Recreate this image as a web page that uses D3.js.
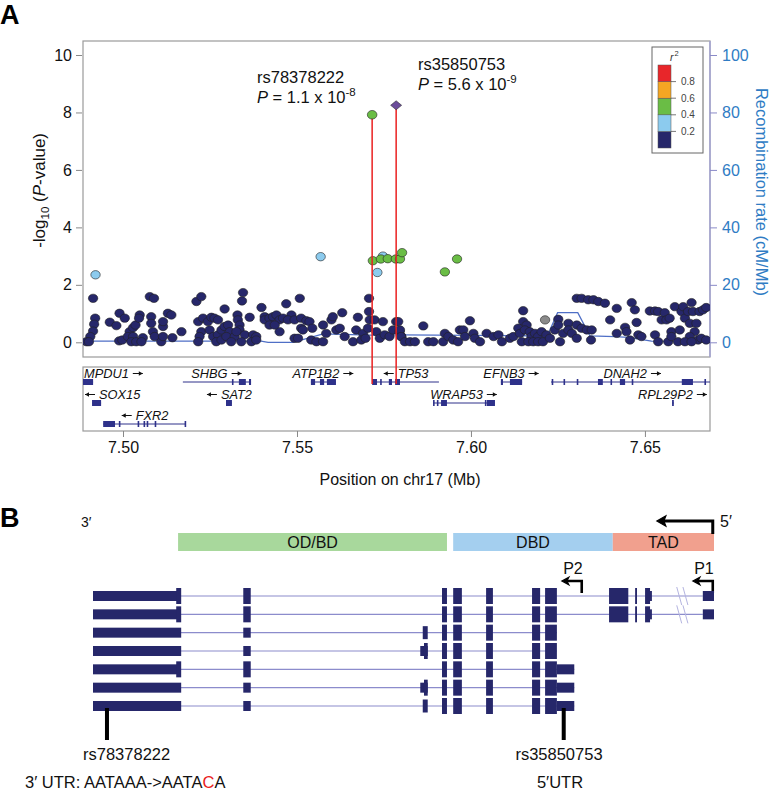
<!DOCTYPE html>
<html>
<head>
<meta charset="utf-8">
<script src="https://cdn.jsdelivr.net/npm/d3@7"></script>
<style>
  body { margin: 0; background: #fff; }
  svg text { font-family: "Liberation Sans", Arial, sans-serif; }
</style>
</head>
<body>
<svg id="fig" width="773" height="792"></svg>
<script>
// ---------- panel A data: [position (Mb), -log10 P] ----------
const navyPts = [
  [7.4914,1.53],[7.4920,0.84],[7.4917,0.63],[7.4914,0.39],[7.4906,0.20],[7.4895,0.02],[7.4902,0.02],
  [7.4962,0.70],[7.4981,0.58],[7.4990,1.01],[7.5005,0.84],[7.4989,0.05],[7.4998,0.08],
  [7.5019,0.37],[7.5029,0.51],[7.5036,0.60],[7.5048,0.95],[7.5046,0.84],[7.5014,0.20],[7.5029,0.20],
  [7.5024,0.02],[7.5038,0.02],[7.5057,0.16],[7.5053,0.02],
  [7.5077,1.59],[7.5089,1.53],[7.5081,0.89],[7.5081,0.66],[7.5086,0.37],[7.5091,0.20],[7.5110,0.02],
  [7.5115,0.20],[7.5115,0.55],[7.5115,0.72],[7.5129,1.01],[7.5139,0.95],[7.5142,0.16],[7.5168,0.37],
  [7.5211,1.42],[7.5225,1.59],[7.5216,0.72],[7.5230,0.84],[7.5225,0.37],[7.5220,0.20],[7.5216,0.02],
  [7.5244,0.72],[7.5254,0.87],[7.5263,0.84],[7.5273,0.78],[7.5249,0.43],[7.5259,0.20],[7.5273,0.26],
  [7.5283,0.43],[7.5268,0.02],[7.5283,0.08],[7.5292,1.16],[7.5292,0.55],[7.5302,0.60],[7.5307,0.37],
  [7.5297,0.20],[7.5321,0.20],[7.5311,0.02],
  [7.5345,1.73],[7.5342,1.44],[7.5329,0.95],[7.5330,0.78],[7.5335,0.60],[7.5335,0.43],[7.5326,0.37],
  [7.5350,0.26],[7.5340,0.02],[7.5364,0.87],[7.5374,0.26],[7.5383,0.20],[7.5369,0.02],[7.5383,0.08],
  [7.5398,1.21],[7.5407,0.89],[7.5407,0.78],[7.5421,0.84],[7.5431,0.89],[7.5441,0.95],[7.5450,0.78],
  [7.5460,0.84],[7.5469,1.34],[7.5484,0.95],[7.5474,0.78],[7.5493,0.78],[7.5508,1.53],[7.5512,0.84],
  [7.5512,0.49],[7.5517,0.43],[7.5527,0.75],[7.5536,0.72],[7.5493,0.14],[7.5503,0.14],[7.5450,0.37],
  [7.5421,0.60],[7.5436,0.60],[7.5544,0.49],[7.5541,0.08],[7.5556,0.02],[7.5575,0.02],[7.5584,0.31],
  [7.5575,0.60],[7.5599,0.78],[7.5603,0.89],[7.5613,0.43],[7.5630,1.03],[7.5623,0.49],[7.5637,0.20],
  [7.5661,0.02],[7.5675,0.87],[7.5670,0.43],[7.5690,0.31],[7.5685,0.08],[7.5697,0.14],[7.5707,1.53],
  [7.5707,1.07],[7.5709,0.78],[7.5704,0.49],[7.5723,0.78],[7.5728,0.37],[7.5738,0.14],[7.5747,0.72],
  [7.5752,0.26],[7.5766,0.20],[7.5776,0.43],[7.5785,0.72],[7.5795,0.37],[7.5800,0.20],
  [7.5791,0.72],[7.5796,0.43],[7.5799,0.20],[7.5810,0.02],[7.5825,0.02],[7.5839,0.02],[7.5863,0.57],
  [7.5877,0.02],[7.5892,0.02],[7.5925,0.31],[7.5920,0.02],[7.5935,0.20],[7.5949,0.08],[7.5968,0.43],
  [7.5978,0.43],[7.5963,0.02],[7.5983,0.20],[7.5997,0.75],[7.6007,0.31],[7.6011,0.14],[7.6026,0.02],
  [7.6045,0.31],[7.6065,0.20],[7.6079,0.26],[7.6089,0.02],[7.6112,0.14],[7.6122,0.20],[7.6150,1.10],
  [7.6150,0.72],[7.6160,0.60],[7.6136,0.49],[7.6141,0.31],[7.6155,0.43],[7.6169,0.37],[7.6174,0.20],
  [7.6184,0.31],[7.6193,0.20],[7.6203,0.37],[7.6217,0.26],[7.6146,0.02],[7.6165,0.02],[7.6179,0.02],
  [7.6193,0.02],[7.6207,0.02],[7.6227,0.14],[7.6241,0.43],[7.6251,0.80],[7.6251,0.60],[7.6265,0.31],
  [7.6256,0.02],[7.6280,0.66],[7.6280,0.43],[7.6290,0.31],[7.6304,0.60],[7.6304,0.14],[7.6318,0.49],
  [7.6333,0.43],[7.6347,0.43],[7.6345,0.08],[7.6304,1.53],[7.6318,1.53],[7.6337,1.48],[7.6352,1.48],
  [7.6366,1.42],[7.6385,1.36],[7.6419,1.18],[7.6400,0.78],[7.6419,0.31],[7.6443,0.52],[7.6447,0.37],
  [7.6457,0.08],[7.6462,1.38],[7.6471,1.13],[7.6476,0.69],[7.6481,0.26],[7.6490,0.20],[7.6514,1.09],
  [7.6529,1.09],[7.6538,1.07],[7.6548,0.78],[7.6529,0.26],[7.6538,0.02],[7.6557,1.03],[7.6562,0.78],
  [7.6571,0.84],[7.6576,0.37],[7.6586,1.24],[7.6600,0.43],[7.6605,1.07],[7.6610,1.24],[7.6615,0.84],
  [7.6624,1.07],[7.6634,1.38],[7.6638,1.07],[7.6629,0.66],[7.6648,0.66],[7.6643,0.37],[7.6657,1.07],
  [7.6667,1.13],[7.6676,1.21],[7.6629,0.20],[7.6653,0.08],[7.6662,0.14],[7.6676,0.08],[7.6567,0.02],
  [7.6595,0.02],[7.6615,0.02],[7.6634,0.02],[7.6576,0.20]
];
const lightBluePts = [[7.4921,2.35],[7.5568,2.98],[7.5731,2.43],[7.5747,3.00]];
const greenPts = [[7.5718,2.84],[7.5741,2.90],[7.5761,2.91],[7.5784,2.90],[7.5796,2.90],
                  [7.5802,3.12],[7.5925,2.45],[7.5960,2.90]];
const grayPts = [[7.6213,0.78]];

const leadIds = ['rs78378222', 'rs35850753'];
const leadPos = [7.5716, 7.5785];
const leadLogP = [7.92, 8.25];
const leadP = ['1.1', '5.6'];
const leadExp = ['-8', '-9'];

// recombination rate [Mb, cM/Mb]
const recomb = [[7.4885,0.4],[7.5397,0.4],[7.5417,0],[7.5489,0],[7.5575,2.9],[7.5710,2.5],
  [7.5796,2.6],[7.6218,2.2],[7.6227,4.3],[7.6249,10.3],[7.6307,10.3],[7.6342,2.2],[7.6414,2.0],
  [7.6452,1.7],[7.6519,0.4],[7.6687,0.3]];

const logTicks = [0, 2, 4, 6, 8, 10];
const recTicks = [0, 20, 40, 60, 80, 100];
const posTicks = [7.50, 7.55, 7.60, 7.65];
const r2Breaks = [0.2, 0.4, 0.6, 0.8];
const r2Colors = ['#26276a', '#8ccbee', '#6abd45', '#f5a623', '#e8262a'];

// genes: name, strand, row, start, end, exons
const genes = [
  {name: 'MPDU1', strand: 1, row: 0, start: 7.4885, end: 7.4914, exons: [[7.4885, 7.4914]]},
  {name: 'SHBG', strand: 1, row: 0, start: 7.5172, end: 7.5368,
    exons: [[7.5313, 7.5316], [7.5333, 7.5353], [7.5362, 7.5368]]},
  {name: 'ATP1B2', strand: 1, row: 0, start: 7.5540, end: 7.5612,
    exons: [[7.5540, 7.5552], [7.5566, 7.5578], [7.5586, 7.5612]]},
  {name: 'TP53', strand: -1, row: 0, start: 7.5716, end: 7.5908,
    exons: [[7.5716, 7.5730], [7.5739, 7.5742], [7.5764, 7.5773], [7.5782, 7.5796]]},
  {name: 'EFNB3', strand: 1, row: 0, start: 7.6086, end: 7.6147,
    exons: [[7.6086, 7.6092], [7.6112, 7.6147]]},
  {name: 'DNAH2', strand: 1, row: 0, start: 7.6230, end: 7.6700,
    exons: [[7.6232, 7.6234], [7.6266, 7.6268], [7.6304, 7.6306], [7.6365, 7.6379], [7.6401, 7.6403],
            [7.6428, 7.6443], [7.6462, 7.6464], [7.6606, 7.6638], [7.6671, 7.6673]]},
  {name: 'SOX15', strand: -1, row: 1, start: 7.4911, end: 7.4937, exons: [[7.4911, 7.4937]]},
  {name: 'SAT2', strand: -1, row: 1, start: 7.5296, end: 7.5313, exons: [[7.5296, 7.5313]]},
  {name: 'WRAP53', strand: 1, row: 1, start: 7.5891, end: 7.6069,
    exons: [[7.5891, 7.5893], [7.5902, 7.5905], [7.5914, 7.5931], [7.6040, 7.6043], [7.6046, 7.6069]]},
  {name: 'RPL29P2', strand: 1, row: 1, start: 7.6578, end: 7.6583, exons: [[7.6578, 7.6583]]},
  {name: 'FXR2', strand: -1, row: 2, start: 7.4943, end: 7.5181,
    exons: [[7.4943, 7.4977], [7.4988, 7.4990], [7.5042, 7.5044], [7.5059, 7.5061], [7.5068, 7.5070],
            [7.5091, 7.5093], [7.5177, 7.5179]]}
];

// ---------- panel B data (schematic units 0-100 along TP53, 3' on the left) ----------
const domainNames = ['OD/BD', 'DBD', 'TAD'];
const domainStart = [13.7, 58.0, 83.7];
const domainEnd = [57.0, 83.7, 100];
const domainColors = ['#a8d89c', '#a4cfef', '#f1a08e'];

const coreCds = [[56.2, 57.0], [58.0, 59.4], [63.3, 64.4], [70.7, 72.0], [72.8, 74.7]];
const isoEnd = [98.2, 98.2, 74.7, 74.7, 77.5, 77.5, 77.5];
const isoUtr = [
  [[0, 14.0], [89.7, 90.0], [98.2, 100]],
  [[0, 14.0], [89.7, 90.0], [98.2, 100]],
  [[0, 14.2], [24.2, 25.4]],
  [[0, 14.2], [24.2, 25.4], [52.7, 53.9]],
  [[0, 14.0], [74.7, 77.5]],
  [[0, 14.2], [24.2, 25.4], [52.7, 53.9], [74.7, 77.5]],
  [[0, 14.2], [24.2, 25.4], [74.7, 77.5]]
];
const isoCds = [
  [[13.4, 14.2], [24.2, 25.4], ...coreCds, [83.1, 86.2], [87.3, 87.6], [88.9, 89.7]],
  [[13.4, 14.2], [24.2, 25.4], ...coreCds, [83.1, 86.2], [87.3, 87.6], [88.9, 89.7]],
  coreCds,
  [[53.3, 53.9], ...coreCds],
  [[13.4, 14.2], [24.2, 25.4], ...coreCds],
  [[53.3, 53.9], ...coreCds],
  coreCds
];
const isoMid = [[], [], [[53.1, 53.9]], [], [], [], [[53.1, 53.9]]];
const breakAt = 94.0;
const promoters = [{name: 'P2', at: 78.7, to: 75.5}, {name: 'P1', at: 99.8, to: 96.6}];
const snpB = [{id: 'rs78378222', at: 2.25}, {id: 'rs35850753', at: 75.8}];

// ================= drawing =================
const FONT = '"Liberation Sans", Arial, sans-serif';
const svg = d3.select('#fig');
const navy = '#26276a';

// ---------- panel A ----------
const pL = 83, pR = 710, pT = 41, pB = 357;
const x = d3.scaleLinear().domain([7.4885, 7.6687]).range([pL, pR]);
const y = d3.scaleLinear().domain([0, 10]).range([342.3, 55]);
const yRec = d3.scaleLinear().domain([0, 100]).range([342.3, 55]);

svg.append('text').attr('x', 0).attr('y', 24).attr('font-size', 27).attr('font-weight', 'bold').text('A');

const defs = svg.append('defs');
defs.append('clipPath').attr('id', 'clipA')
  .append('rect').attr('x', pL).attr('y', pT).attr('width', pR - pL).attr('height', pB - pT);
defs.append('clipPath').attr('id', 'clipG')
  .append('rect').attr('x', pL).attr('y', 367).attr('width', pR - pL).attr('height', 64);

svg.append('rect').attr('x', pL).attr('y', pT).attr('width', pR - pL).attr('height', pB - pT)
  .attr('fill', 'none').attr('stroke', '#9a9a9a').attr('stroke-width', 1.2);
svg.append('line').attr('x1', pR).attr('x2', pR).attr('y1', pT).attr('y2', pB)
  .attr('stroke', '#a4a4d4').attr('stroke-width', 1.5);

// left axis
const gL = svg.append('g').attr('transform', `translate(${pL - 1},0)`)
  .call(d3.axisLeft(y).tickValues(logTicks).tickSize(6).tickPadding(4));
gL.attr('font-family', FONT).attr('font-size', 16);
gL.select('.domain').remove();
gL.selectAll('line').attr('stroke', '#888');
gL.selectAll('text').attr('fill', '#111');

// right axis
const gR = svg.append('g').attr('transform', `translate(${pR},0)`)
  .call(d3.axisRight(yRec).tickValues(recTicks).tickSize(7).tickPadding(5));
gR.attr('font-family', FONT).attr('font-size', 16);
gR.select('.domain').remove();
gR.selectAll('line').attr('stroke', '#8a8ac8');
gR.selectAll('text').attr('fill', '#2f7cc4');

// axis titles
const yt = svg.append('text').attr('transform', 'translate(45,133) rotate(-90)')
  .attr('text-anchor', 'end').attr('font-size', 17).attr('fill', '#111');
yt.append('tspan').text('-log');
yt.append('tspan').attr('font-size', 11.5).attr('dy', 4).text('10');
yt.append('tspan').attr('dy', -4).text(' (');
yt.append('tspan').attr('font-style', 'italic').text('P');
yt.append('tspan').text('-value)');

svg.append('text').attr('transform', 'translate(756,192) rotate(90)')
  .attr('text-anchor', 'middle').attr('font-size', 16.5).attr('fill', '#2f7cc4')
  .text('Recombination rate (cM/Mb)');

// recombination line
const plot = svg.append('g').attr('clip-path', 'url(#clipA)');
plot.append('path').datum(recomb)
  .attr('fill', 'none').attr('stroke', '#4f6fc6').attr('stroke-width', 1.3)
  .attr('d', d3.line().x(d => x(d[0])).y(d => yRec(d[1])));

function dots(data, fill) {
  plot.append('g').selectAll('ellipse').data(data).join('ellipse')
    .attr('cx', d => x(d[0])).attr('cy', d => y(d[1])).attr('rx', 4.7).attr('ry', 4.2)
    .attr('fill', fill).attr('stroke', '#222').attr('stroke-width', 0.6);
}
dots(navyPts, navy);
dots(grayPts, '#8a8a8a');

// gene track
svg.append('rect').attr('x', pL).attr('y', 367).attr('width', pR - pL).attr('height', 64)
  .attr('fill', 'none').attr('stroke', '#9a9a9a').attr('stroke-width', 1.2);
const rowY = [382, 403, 424];
const gt = svg.append('g');
const gtClip = gt.append('g').attr('clip-path', 'url(#clipG)');
genes.forEach(g => {
  const gy = rowY[g.row];
  gtClip.append('line').attr('x1', x(g.start)).attr('x2', x(g.end)).attr('y1', gy).attr('y2', gy)
    .attr('stroke', '#2e318a').attr('stroke-width', 1);
  gtClip.selectAll(null).data(g.exons).join('rect')
    .attr('x', e => x(e[0])).attr('y', gy - 3)
    .attr('width', e => Math.max(1.6, x(e[1]) - x(e[0]))).attr('height', 6)
    .attr('fill', '#2e318a');

  const t = gt.append('text').attr('font-style', 'italic').attr('font-size', 12.8).attr('fill', '#111')
    .attr('y', gy - 4).text(g.name);
  const tw = t.node().getComputedTextLength();
  const total = tw + 15;
  const cx = (x(g.start) + x(g.end)) / 2;
  const lx = Math.max(pL + 1, Math.min(pR - 2 - total, cx - total / 2));
  const ay = gy - 8.5;
  let a0, a1;
  if (g.strand > 0) { t.attr('x', lx); a0 = lx + tw + 4; a1 = a0 + 10; }
  else { t.attr('x', lx + 15); a0 = lx + 11; a1 = lx + 1; }
  gt.append('line').attr('x1', a0).attr('x2', a1).attr('y1', ay).attr('y2', ay)
    .attr('stroke', '#111').attr('stroke-width', 1);
  const d = g.strand > 0 ? 1 : -1;
  gt.append('path')
    .attr('d', `M${a1},${ay} L${a1 - d * 4},${ay - 2.2} L${a1 - d * 4},${ay + 2.2} Z`)
    .attr('fill', '#111');
});

// x axis
const gX = svg.append('g').attr('transform', 'translate(0,431)')
  .call(d3.axisBottom(x).tickValues(posTicks).tickFormat(d3.format('.2f')).tickSize(6).tickPadding(5));
gX.attr('font-family', FONT).attr('font-size', 16);
gX.select('.domain').remove();
gX.selectAll('line').attr('stroke', '#888');
gX.selectAll('text').attr('fill', '#111');
svg.append('text').attr('x', 400).attr('y', 485).attr('text-anchor', 'middle')
  .attr('font-size', 16).attr('fill', '#111').text('Position on chr17 (Mb)');

// lead SNP lines
leadPos.forEach((p, i) => {
  svg.append('line').attr('x1', x(p)).attr('x2', x(p)).attr('y1', y(leadLogP[i])).attr('y2', 384)
    .attr('stroke', '#ea2020').attr('stroke-width', 1.5);
});
dots(lightBluePts, r2Colors[1]);
dots(greenPts, r2Colors[2]);

// lead SNPs
svg.append('ellipse').attr('cx', x(leadPos[0])).attr('cy', y(leadLogP[0])).attr('rx', 4.8).attr('ry', 4.3)
  .attr('fill', r2Colors[2]).attr('stroke', '#222').attr('stroke-width', 0.6);
{
  const cx = x(leadPos[1]), cy = y(leadLogP[1]);
  svg.append('path').attr('d', `M${cx - 5.5},${cy} L${cx},${cy - 4.5} L${cx + 5.5},${cy} L${cx},${cy + 4.5} Z`)
    .attr('fill', '#6b4c9a').attr('stroke', '#333').attr('stroke-width', 0.6);
}

// annotations
const annX = [257, 418], annY = [83, 70];
leadIds.forEach((id, i) => {
  svg.append('text').attr('x', annX[i]).attr('y', annY[i]).attr('font-size', 16.5).attr('fill', '#111').text(id);
  const t = svg.append('text').attr('x', annX[i]).attr('y', annY[i] + 20).attr('font-size', 16.5).attr('fill', '#111');
  t.append('tspan').attr('font-style', 'italic').text('P');
  t.append('tspan').text(` = ${leadP[i]} x 10`);
  t.append('tspan').attr('font-size', 11.5).attr('dy', -7).text(leadExp[i]);
});

// legend
svg.append('rect').attr('x', 652).attr('y', 47).attr('width', 51).attr('height', 106)
  .attr('fill', '#fff').attr('stroke', '#666').attr('stroke-width', 1);
const yL = d3.scaleLinear().domain([0, 1]).range([148, 65]);
const bins = d3.range(5).map(i => [i * 0.2, (i + 1) * 0.2]);
svg.append('g').selectAll('rect').data(bins).join('rect')
  .attr('x', 658).attr('y', d => yL(d[1])).attr('width', 13).attr('height', d => yL(d[0]) - yL(d[1]))
  .attr('fill', (d, i) => r2Colors[i]).attr('stroke', '#555').attr('stroke-width', 0.5);
r2Breaks.forEach(b => {
  svg.append('line').attr('x1', 671).attr('x2', 676).attr('y1', yL(b)).attr('y2', yL(b))
    .attr('stroke', '#555').attr('stroke-width', 0.8);
  svg.append('text').attr('x', 681).attr('y', yL(b) + 3.5).attr('font-size', 10).attr('fill', '#444').text(b.toFixed(1));
});
const r2t = svg.append('text').attr('x', 670).attr('y', 61).attr('font-size', 10.5).attr('fill', '#333');
r2t.append('tspan').attr('font-style', 'italic').text('r');
r2t.append('tspan').attr('font-size', 7.5).attr('dy', -5).attr('dx', 1).text('2');

// ---------- panel B ----------
const xB = d3.scaleLinear().domain([0, 100]).range([93, 714]);
const rowB = d3.scalePoint().domain(d3.range(7)).range([596, 706]);

svg.append('text').attr('x', 0).attr('y', 527).attr('font-size', 27).attr('font-weight', 'bold').text('B');
svg.append('text').attr('x', 81).attr('y', 527).attr('font-size', 14).attr('fill', '#111').text('3\u2032');
svg.append('text').attr('x', 720).attr('y', 527).attr('font-size', 16).attr('fill', '#111').text('5\u2032');

// domain bars
domainNames.forEach((n, i) => {
  svg.append('rect').attr('x', xB(domainStart[i])).attr('y', 533)
    .attr('width', xB(domainEnd[i]) - xB(domainStart[i])).attr('height', 18).attr('fill', domainColors[i]);
  svg.append('text').attr('x', (xB(domainStart[i]) + xB(domainEnd[i])) / 2).attr('y', 548)
    .attr('text-anchor', 'middle').attr('font-size', 16).attr('fill', '#111').text(n);
});

// bent arrows (transcription direction and promoters)
function bentArrow(xv, yTop, yBot, xTip, w, head) {
  svg.append('path').attr('d', `M${xv},${yBot} L${xv},${yTop} L${xTip + head},${yTop}`)
    .attr('fill', 'none').attr('stroke', '#000').attr('stroke-width', w);
  svg.append('path')
    .attr('d', `M${xTip},${yTop} L${xTip + head + 2},${yTop - head * 0.75} L${xTip + head},${yTop} L${xTip + head + 2},${yTop + head * 0.75} Z`)
    .attr('fill', '#000').attr('stroke', '#000').attr('stroke-width', 1.2);
}
bentArrow(xB(99.8), 521, 534, xB(90.8), 3, 7);
promoters.forEach(p => {
  bentArrow(xB(p.at), 581, 593, xB(p.to), 2.6, 5);
  svg.append('text').attr('x', xB(p.at) + 1).attr('y', 574).attr('text-anchor', 'end')
    .attr('font-size', 16).attr('fill', '#111').text(p.name);
});

// isoforms
const iso = svg.append('g');
isoEnd.forEach((end, r) => {
  const ry = rowB(r);
  iso.append('line').attr('x1', xB(0)).attr('x2', xB(end)).attr('y1', ry).attr('y2', ry)
    .attr('stroke', '#8c8ccc').attr('stroke-width', 1.1);
  const blocks = [
    ...isoUtr[r].map(e => ({e, h: 10})),
    ...isoMid[r].map(e => ({e, h: 13})),
    ...isoCds[r].map(e => ({e, h: 16}))
  ];
  iso.selectAll(null).data(blocks).join('rect')
    .attr('x', d => xB(d.e[0])).attr('width', d => xB(d.e[1]) - xB(d.e[0]))
    .attr('y', d => ry - d.h / 2).attr('height', d => d.h).attr('fill', navy);
  if (end > 90) {
    [0, 1.0].forEach(o => {
      iso.append('line').attr('x1', xB(breakAt + o)).attr('x2', xB(breakAt + o + 0.8))
        .attr('y1', ry - 9).attr('y2', ry + 9).attr('stroke', '#b4b4e0').attr('stroke-width', 1);
    });
  }
});

// SNP pointers
snpB.forEach(s => {
  svg.append('rect').attr('x', xB(s.at) - 2).attr('y', 708).attr('width', 4).attr('height', 32).attr('fill', '#000');
});
svg.append('text').attr('x', 83).attr('y', 760).attr('font-size', 16.5).attr('fill', '#111').text(snpB[0].id);
svg.append('text').attr('x', 559).attr('y', 760).attr('text-anchor', 'middle').attr('font-size', 16.5)
  .attr('fill', '#111').text(snpB[1].id);

const utr3 = svg.append('text').attr('x', 25).attr('y', 788).attr('font-size', 16.5).attr('fill', '#111');
utr3.append('tspan').text('3\u2032 UTR: AATAAA->AATA');
utr3.append('tspan').attr('fill', '#ea2020').text('C');
utr3.append('tspan').text('A');
svg.append('text').attr('x', 560).attr('y', 788).attr('text-anchor', 'middle').attr('font-size', 16.5)
  .attr('fill', '#111').text('5\u2032UTR');
</script>
</body>
</html>
